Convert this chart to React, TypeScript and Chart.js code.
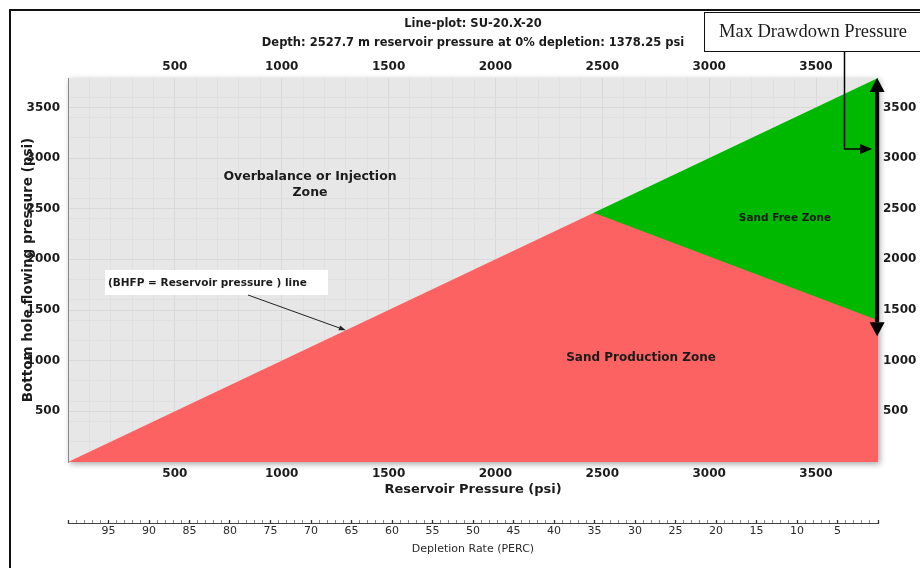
import React, { useEffect, useRef } from 'react';
import { Chart, registerables } from 'chart.js';

Chart.register(...registerables);

const FONT = '"DejaVu Sans", Verdana, sans-serif';
const SERIF = '"Liberation Serif", "Times New Roman", serif';
const INK = '#1b1b1b';
const RED = '#fd6262';
const GREEN = '#00b800';
const PANEL = '#e7e7e7';
const GRID_MINOR = '#e0e0e0';
const GRID_MAJOR = '#d9d9d9';

// Axis ranges (psi) and labelled ticks
const RESERVOIR_MIN = 0;
const RESERVOIR_MAX = 3790;
const BHFP_MIN = 0;
const BHFP_MAX = 3790;
const PRESSURE_STEP = 100;
const PRESSURE_LABELS = [500, 1000, 1500, 2000, 2500, 3000, 3500];
const DEPLETION_MIN = 0;
const DEPLETION_MAX = 100;
const DEPLETION_STEP = 1;
const DEPLETION_LABELS = [95, 90, 85, 80, 75, 70, 65, 60, 55, 50, 45, 40, 35, 30, 25, 20, 15, 10, 5];

// Sand production envelope: BHFP = reservoir pressure up to the onset point,
// then the critical BHFP line out to the initial reservoir pressure
const sandProductionReservoir = [0, 2460, 3790];
const sandProductionBhfp = [0, 2460, 1400];

// Upper edge of the sand free zone (BHFP = reservoir pressure)
const sandFreeReservoir = [2460, 3790];
const sandFreeBhfp = [2460, 3790];

// Max drawdown marker at the initial reservoir pressure
const drawdownReservoir = 3786;
const drawdownTopBhfp = 3790;
const drawdownBottomBhfp = 1240;
const drawdownCalloutBhfp = 3090;

// Point on the BHFP = reservoir pressure line targeted by its callout
const equalityPointReservoir = 1300;
const equalityPointBhfp = 1300;

const toPoints = (xs: number[], ys: number[]) => xs.map((x, i) => ({ x, y: ys[i] }));

// Evenly stepped tick values between min and max (inclusive of min)
const steppedTicks = (min: number, max: number, step: number) => {
  const out: { value: number }[] = [];
  for (let v = min; v <= max + 1e-9; v += step) out.push({ value: Math.round(v * 1000) / 1000 });
  return out;
};

const isMultiple = (v: number, m: number) => Math.abs(v / m - Math.round(v / m)) < 1e-6;

function arrowHead(ctx: CanvasRenderingContext2D, tipX: number, tipY: number, fromX: number, fromY: number, len: number, width: number) {
  const ang = Math.atan2(tipY - fromY, tipX - fromX);
  const bx = tipX - Math.cos(ang) * len;
  const by = tipY - Math.sin(ang) * len;
  const nx = (-Math.sin(ang) * width) / 2;
  const ny = (Math.cos(ang) * width) / 2;
  ctx.beginPath();
  ctx.moveTo(tipX, tipY);
  ctx.lineTo(bx + nx, by + ny);
  ctx.lineTo(bx - nx, by - ny);
  ctx.closePath();
  ctx.fill();
  return { bx, by };
}

const decor = {
  id: 'decor',
  beforeDraw(chart: any) {
    const { ctx, chartArea: a } = chart;
    ctx.save();
    ctx.fillStyle = '#ffffff';
    ctx.fillRect(0, 0, chart.width, chart.height);
    ctx.strokeStyle = '#111111';
    ctx.lineWidth = 2;
    ctx.strokeRect(10, 10, chart.width + 20, chart.height + 20);
    ctx.shadowColor = 'rgba(0,0,0,0.35)';
    ctx.shadowBlur = 6;
    ctx.shadowOffsetX = 2;
    ctx.shadowOffsetY = 2;
    ctx.fillStyle = PANEL;
    ctx.fillRect(a.left, a.top, a.right - a.left, a.bottom - a.top);
    ctx.restore();
  },
  afterDraw(chart: any) {
    const { ctx, chartArea: a, scales } = chart;
    const sx = scales.x;
    const sy = scales.y;
    const cx = (a.left + a.right) / 2;
    ctx.save();
    ctx.fillStyle = INK;
    ctx.textAlign = 'center';
    ctx.textBaseline = 'middle';

    ctx.font = `bold 11.5px ${FONT}`;
    ctx.fillText('Line-plot: SU-20.X-20', cx, 24);
    ctx.fillText('Depth: 2527.7 m reservoir pressure at 0% depletion: 1378.25 psi', cx, 43);

    ctx.font = `bold 12.5px ${FONT}`;
    ctx.fillText('Overbalance or Injection', 310, 177);
    ctx.fillText('Zone', 310, 193);

    ctx.font = `bold 12px ${FONT}`;
    ctx.fillText('Sand Production Zone', 641, 358);

    ctx.font = `bold 10.5px ${FONT}`;
    ctx.fillText('Sand Free Zone', 785, 218);

    // callout for the BHFP = reservoir pressure line
    ctx.fillStyle = '#ffffff';
    ctx.fillRect(105, 270, 223, 25);
    ctx.fillStyle = INK;
    ctx.textAlign = 'left';
    ctx.font = `bold 10.5px ${FONT}`;
    ctx.fillText('(BHFP = Reservoir pressure ) line', 108, 283);
    const tX = sx.getPixelForValue(equalityPointReservoir);
    const tY = sy.getPixelForValue(equalityPointBhfp);
    ctx.fillStyle = '#222222';
    const h1 = arrowHead(ctx, tX, tY, 248, 295, 7, 5);
    ctx.strokeStyle = '#222222';
    ctx.lineWidth = 1;
    ctx.beginPath();
    ctx.moveTo(248, 295);
    ctx.lineTo(h1.bx, h1.by);
    ctx.stroke();

    // max drawdown double arrow
    const dx = sx.getPixelForValue(drawdownReservoir);
    const dTop = sy.getPixelForValue(drawdownTopBhfp);
    const dBot = sy.getPixelForValue(drawdownBottomBhfp);
    ctx.fillStyle = '#000000';
    const top = arrowHead(ctx, dx, dTop, dx, dBot, 14, 15);
    const bot = arrowHead(ctx, dx, dBot, dx, dTop, 14, 15);
    ctx.strokeStyle = '#000000';
    ctx.lineWidth = 4;
    ctx.beginPath();
    ctx.moveTo(dx, top.by);
    ctx.lineTo(dx, bot.by);
    ctx.stroke();

    // Max Drawdown Pressure label and connector
    ctx.fillStyle = '#ffffff';
    ctx.fillRect(704, 12, 240, 39);
    ctx.strokeStyle = '#111111';
    ctx.lineWidth = 1;
    ctx.strokeRect(704.5, 12.5, 240, 39);
    ctx.fillStyle = INK;
    ctx.textAlign = 'center';
    ctx.font = `18.5px ${SERIF}`;
    ctx.fillText('Max Drawdown Pressure', 813, 32);

    const cy = sy.getPixelForValue(drawdownCalloutBhfp);
    const tipX = dx - 5;
    ctx.fillStyle = '#000000';
    const h2 = arrowHead(ctx, tipX, cy, 844, cy, 12, 10);
    ctx.strokeStyle = '#000000';
    ctx.lineWidth = 1.5;
    ctx.beginPath();
    ctx.moveTo(844.5, 52);
    ctx.lineTo(844.5, cy);
    ctx.lineTo(h2.bx, cy);
    ctx.stroke();

    ctx.restore();
  },
};

const pressureLabel = (v: number | string) => {
  const n = Math.round(Number(v));
  return PRESSURE_LABELS.includes(n) && Math.abs(Number(v) - n) < 1e-6 ? String(n) : '';
};
const depletionLabel = (v: number | string) => {
  const n = Math.round(Number(v));
  return DEPLETION_LABELS.includes(n) && Math.abs(Number(v) - n) < 1e-6 ? String(n) : '';
};
const pressureTicks = (s: any) => { s.ticks = steppedTicks(s.min, s.max, PRESSURE_STEP); };
const depletionTicks = (s: any) => { s.ticks = steppedTicks(DEPLETION_MIN, DEPLETION_MAX, DEPLETION_STEP); };
const tickFont = { family: FONT, size: 12, weight: 'bold' as const };

export default function App() {
  const canvasRef = useRef<HTMLCanvasElement | null>(null);

  useEffect(() => {
    const canvas = canvasRef.current;
    if (!canvas) return;
    const chart = new Chart(canvas, {
      type: 'scatter',
      data: {
        datasets: [
          {
            label: 'Sand Production Zone',
            data: toPoints(sandProductionReservoir, sandProductionBhfp),
            showLine: true,
            fill: 'origin',
            backgroundColor: RED,
            borderWidth: 0,
            borderColor: RED,
            pointRadius: 0,
            order: 1,
          },
          {
            label: 'Sand Free Zone',
            data: toPoints(sandFreeReservoir, sandFreeBhfp),
            showLine: true,
            fill: 'origin',
            backgroundColor: GREEN,
            borderWidth: 0,
            borderColor: GREEN,
            pointRadius: 0,
            order: 2,
          },
        ],
      },
      plugins: [decor],
      options: {
        responsive: false,
        animation: false,
        events: [],
        layout: { padding: 0 },
        plugins: {
          legend: { display: false },
          tooltip: { enabled: false },
          title: { display: false },
        },
        scales: {
          x: {
            type: 'linear',
            position: 'bottom',
            weight: 0,
            min: RESERVOIR_MIN,
            max: RESERVOIR_MAX,
            border: { display: false },
            grid: {
              drawTicks: false,
              color: (c: any) => {
                const v = c.tick ? c.tick.value : 0;
                if (v <= 0) return 'rgba(0,0,0,0)';
                return isMultiple(v, 500) ? GRID_MAJOR : GRID_MINOR;
              },
            },
            afterBuildTicks: pressureTicks,
            ticks: {
              autoSkip: false,
              maxRotation: 0,
              padding: 5,
              color: INK,
              font: tickFont,
              callback: pressureLabel,
            },
            title: {
              display: true,
              text: 'Reservoir Pressure (psi)',
              color: INK,
              font: { family: FONT, size: 13, weight: 'bold' },
              padding: { top: 0, bottom: 26 },
            },
            afterFit: (s: any) => { s.height = 61; },
          },
          xd: {
            type: 'linear',
            position: 'bottom',
            weight: 1,
            min: DEPLETION_MIN,
            max: DEPLETION_MAX,
            reverse: true,
            border: { display: true, color: '#444444', width: 1 },
            grid: {
              drawOnChartArea: false,
              drawTicks: true,
              tickLength: -3,
              tickColor: (c: any) => (c.tick && isMultiple(c.tick.value, 5) ? '#333333' : '#888888'),
              tickWidth: (c: any) => (c.tick && isMultiple(c.tick.value, 5) ? 1.3 : 1),
            },
            afterBuildTicks: depletionTicks,
            ticks: {
              autoSkip: false,
              maxRotation: 0,
              padding: 5,
              color: '#2a2a2a',
              font: { family: FONT, size: 11 },
              callback: depletionLabel,
            },
            title: {
              display: true,
              text: 'Depletion Rate (PERC)',
              color: '#2a2a2a',
              font: { family: FONT, size: 11 },
              padding: { top: 0, bottom: 12 },
            },
            afterFit: (s: any) => { s.height = 45; },
          },
          x2: {
            type: 'linear',
            position: 'top',
            min: RESERVOIR_MIN,
            max: RESERVOIR_MAX,
            border: { display: false },
            grid: { display: false, drawTicks: false },
            afterBuildTicks: pressureTicks,
            ticks: {
              autoSkip: false,
              maxRotation: 0,
              padding: 4,
              color: INK,
              font: tickFont,
              callback: pressureLabel,
            },
            afterFit: (s: any) => { s.height = 78; },
          },
          y: {
            type: 'linear',
            position: 'left',
            min: BHFP_MIN,
            max: BHFP_MAX,
            border: { display: true, color: '#8a8a8a', width: 1 },
            grid: {
              drawTicks: false,
              color: (c: any) => {
                const v = c.tick ? c.tick.value : 0;
                if (v <= 0) return 'rgba(0,0,0,0)';
                if (isMultiple(v, 500)) return GRID_MAJOR;
                return isMultiple(v, 200) ? GRID_MINOR : 'rgba(0,0,0,0)';
              },
            },
            afterBuildTicks: pressureTicks,
            ticks: {
              autoSkip: false,
              padding: 8,
              color: INK,
              font: tickFont,
              callback: pressureLabel,
            },
            title: {
              display: true,
              text: 'Bottom hole flowing pressure (psi)',
              color: INK,
              font: { family: FONT, size: 13.5, weight: 'bold' },
              padding: { top: 20, bottom: 0 },
            },
            afterFit: (s: any) => { s.width = 68; },
          },
          y2: {
            type: 'linear',
            position: 'right',
            min: BHFP_MIN,
            max: BHFP_MAX,
            border: { display: false },
            grid: { display: false, drawTicks: false },
            afterBuildTicks: pressureTicks,
            ticks: {
              autoSkip: false,
              padding: 5,
              color: INK,
              font: tickFont,
              callback: pressureLabel,
            },
            afterFit: (s: any) => { s.width = 42; },
          },
        },
      } as any,
    });
    return () => chart.destroy();
  }, []);

  return (
    <div style={{ position: 'fixed', left: 0, top: 0, width: 920, height: 568, background: '#ffffff' }}>
      <canvas ref={canvasRef} width={920} height={568} style={{ display: 'block', width: 920, height: 568 }} />
    </div>
  );
}
